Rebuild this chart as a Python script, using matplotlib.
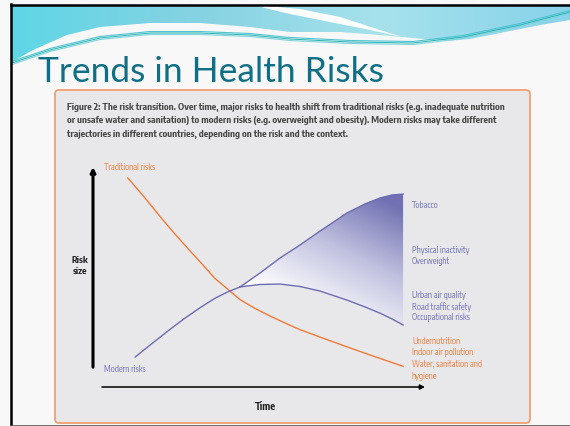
import numpy as np
import matplotlib
matplotlib.use("Agg")
import matplotlib.pyplot as plt
import matplotlib.patheffects as pe
from matplotlib.patches import FancyBboxPatch, Polygon
from matplotlib.colors import LinearSegmentedColormap
from matplotlib import font_manager

# risk curves, time and risk size on a 0-100 scale
trad_time = [10.5, 15.4, 20.2, 24.7, 29.2, 33.1, 36.7, 40.7, 44.3, 48.8, 53.3, 57.8, 62.3, 68.4, 75.3, 84.3, 93.4]
trad_risk = [95.0, 86.4, 77.5, 69.5, 61.9, 55.5, 49.4, 44.3, 39.7, 35.7, 32.3, 29.1, 26.1, 22.7, 18.9, 14.1, 9.4]

modern_time = [12.7, 17.2, 23.2, 27.7, 32.2, 36.7, 40.4, 44.3]
modern_risk = [13.6, 19.1, 26.2, 31.3, 36.0, 40.3, 43.1, 45.5]

branch_time = [44.3, 50.3, 56.3, 62.3, 68.4, 76.5, 81.9, 86.4, 90.1, 93.4]
branch_upper = [45.5, 51.8, 58.6, 64.5, 70.9, 79.1, 83.2, 85.9, 87.3, 87.7]
branch_lower = [45.5, 46.6, 46.8, 45.7, 43.6, 39.5, 36.4, 33.6, 30.9, 28.2]

caption_lines = [
    "Figure 2: The risk transition. Over time, major risks to health shift from traditional risks (e.g. inadequate nutrition",
    "or unsafe water and sanitation) to modern risks (e.g. overweight and obesity). Modern risks may take different",
    "trajectories in different countries, depending on the risk and the context.",
]
modern_labels = ["Tobacco", "", "", "", "Physical inactivity", "Overweight", "", "",
                 "Urban air quality", "Road traffic safety", "Occupational risks"]
trad_labels = ["Undernutrition", "Indoor air pollution", "Water, sanitation and", "hygiene"]

ORANGE = "#f07b36"
PURPLE = "#6c6cb4"
TEAL = "#0f6f86"

fonts = font_manager.fontManager.ttflist
names = sorted({f.name for f in fonts})


def has_bold(fam):
    for f in fonts:
        if f.name == fam:
            w = f.weight
            if (isinstance(w, int) and w >= 600) or str(w) in ("bold", "heavy", "black", "demibold", "semibold"):
                return True
    return False


cond = [n for n in names if "Narrow" in n or "Condensed" in n]
cond.sort(key=lambda n: (not has_bold(n), "Sans" not in n and "Roboto" not in n))
if cond:
    narrow = dict(family=[cond[0], "DejaVu Sans"])
    fake_bold = not has_bold(cond[0])
elif any(f.name == "DejaVu Sans" and f.stretch == "condensed" for f in fonts):
    narrow = dict(family=["DejaVu Sans"], fontstretch="condensed")
    fake_bold = False
else:
    narrow = dict(family=["Roboto", "Liberation Sans", "DejaVu Sans"])
    fake_bold = False
title_font = ["Lato", "DejaVu Sans"]


def bold_kw(color):
    if fake_bold:
        return dict(path_effects=[pe.withStroke(linewidth=0.6, foreground=color)])
    return dict(fontweight="bold")


W, H = 570, 426
fig = plt.figure(figsize=(W / 100, H / 100), dpi=100)
fig.patch.set_facecolor("#f8f8f8")
renderer = fig.canvas.get_renderer()


def fit(txt, width):
    w = txt.get_window_extent(renderer).width
    txt.set_fontsize(txt.get_fontsize() * width / w)
    return txt.get_fontsize()


# slide background in pixel coordinates
bg = fig.add_axes([0, 0, 1, 1])
bg.set_xlim(0, W)
bg.set_ylim(H, 0)
bg.axis("off")

band_x = [12, 570, 570, 540, 500, 470, 447, 413, 380, 340, 290, 250, 200, 150, 100, 67, 33, 12]
band_y = [5, 5, 20, 25, 33, 39, 41, 38, 35, 32, 32, 27, 23, 23, 27, 35, 50, 62]
band = Polygon(np.column_stack([band_x, band_y]), closed=True, facecolor="none", edgecolor="none")
bg.add_patch(band)
cyan = LinearSegmentedColormap.from_list("cy", ["#5fd6e6", "#86d2e2", "#a6e2ec", "#88d2ea"])
grad = np.tile(np.linspace(0, 1, 200), (20, 1))
im = bg.imshow(grad, cmap=cyan, extent=[10, 570, 70, 0], aspect="auto", zorder=1)
im.set_clip_path(band)

swoosh_x = [255, 300, 340, 380, 402, 370, 330, 290, 265]
swoosh_y = [5, 9, 17, 30, 37, 30, 22, 14, 8]
bg.add_patch(Polygon(np.column_stack([swoosh_x, swoosh_y]), closed=True,
                     facecolor="white", edgecolor="none", zorder=2))

line_x = np.array([12, 50, 100, 150, 200, 250, 290, 350, 413, 463, 520, 570])
line_y = np.array([63, 50, 38, 33, 33, 35, 39, 42, 43, 37, 25, 12])
for off, c in [(0, "#30b8b8"), (1.5, "#7fd4dc"), (-1.5, "#4fc2d0")]:
    bg.plot(line_x, line_y + off, color=c, lw=0.8, zorder=3)

bg.plot([11, 11], [4, H], color="black", lw=1.8, zorder=5)
bg.plot([11, W], [4.5, 4.5], color="black", lw=1.8, zorder=5)
bg.plot([11, W], [425.5, 425.5], color="#555555", lw=1.2, zorder=5)

title = bg.text(38, 82, "Trends in Health Risks", fontsize=26, color=TEAL,
                family=title_font, va="baseline", ha="left", zorder=4)
fit(title, 345)

panel = FancyBboxPatch((55, 90), 475, 333, boxstyle="round,pad=0,rounding_size=4",
                       facecolor="#e8e8eb", edgecolor="#f2a070", lw=1.3, zorder=4)
bg.add_patch(panel)

CAP = "#474747"
cap = [bg.text(67, 107 + i * 13.5, line, fontsize=7, color=CAP,
               va="center", ha="left", zorder=6, **narrow, **bold_kw(CAP))
       for i, line in enumerate(caption_lines)]
cap_size = fit(cap[0], 437)
for t in cap[1:]:
    t.set_fontsize(cap_size)

labels = []
for i, lab in enumerate(modern_labels):
    if lab:
        labels.append(bg.text(412, 205 + i * 11.3, lab, fontsize=6, color=PURPLE,
                              va="center", ha="left", zorder=6, **narrow))
for i, lab in enumerate(trad_labels):
    labels.append(bg.text(412, 341 + i * 11.7, lab, fontsize=6, color=ORANGE,
                          va="center", ha="left", zorder=6, **narrow))
water = labels[-2]
labels.append(bg.text(104, 167, "Traditional risks", fontsize=6, color=ORANGE,
                      va="center", ha="left", zorder=6, **narrow))
labels.append(bg.text(104, 369, "Modern risks", fontsize=6, color=PURPLE,
                      va="center", ha="left", zorder=6, **narrow))
lab_size = fit(water, 70)
for t in labels:
    t.set_fontsize(lab_size)

bg.text(80, 266, "Risk\nsize", fontsize=lab_size * 1.1, color="#222222",
        va="center", ha="center", linespacing=1.3, zorder=6, **narrow, **bold_kw("#222222"))
bg.text(265, 407, "Time", fontsize=lab_size * 1.2, color="#222222",
        va="center", ha="center", zorder=6, **narrow, **bold_kw("#222222"))

# chart axes: time 0-100 on x, risk 0-100 on y
ax = fig.add_axes([93 / W, 1 - 387 / H, (425 - 93) / W, (387 - 167) / H])
ax.patch.set_alpha(0)
ax.set_zorder(10)
ax.axis("off")

poly = ax.fill_between(branch_time, branch_lower, branch_upper, facecolor="none", edgecolor="none")
tt, rr = np.meshgrid(np.linspace(40, 95, 200), np.linspace(20, 95, 200))
v = np.clip(((tt - 52) * 0.6 + (rr - 42) * 0.8) / 56, 0, 1) ** 1.1
purple_map = LinearSegmentedColormap.from_list("pu", ["#ffffff", "#c0c0df", "#7070b2"])
gim = ax.imshow(v, cmap=purple_map, origin="lower", extent=[40, 95, 20, 95], aspect="auto", zorder=1)
gim.set_clip_path(poly.get_paths()[0], transform=ax.transData)

ax.plot(trad_time, trad_risk, color=ORANGE, lw=1.0, zorder=3)
ax.plot(modern_time, modern_risk, color=PURPLE, lw=1.0, zorder=3)
ax.plot(branch_time, branch_upper, color=PURPLE, lw=1.0, zorder=3)
ax.plot(branch_time, branch_lower, color=PURPLE, lw=1.0, zorder=3)

ax.annotate("", xy=(0, 100), xytext=(0, 9),
            arrowprops=dict(arrowstyle="-|>", lw=2.2, color="black", mutation_scale=7, shrinkA=0, shrinkB=0))
ax.annotate("", xy=(100, 0), xytext=(2.7, 0),
            arrowprops=dict(arrowstyle="-|>", lw=1.1, color="black", mutation_scale=7, shrinkA=0, shrinkB=0))

ax.set_xlim(0, 100)
ax.set_ylim(0, 100)

fig.savefig("out.png", dpi=100)
